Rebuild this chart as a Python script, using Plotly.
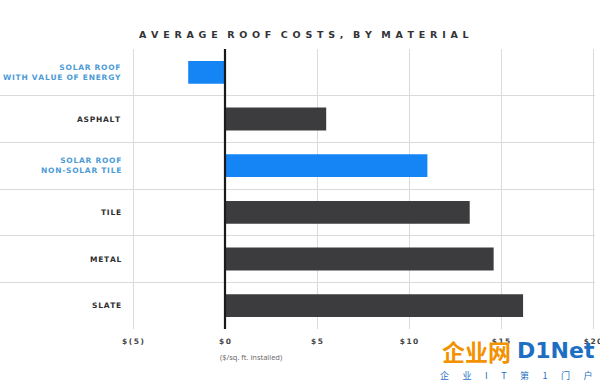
import plotly.graph_objects as go

categories = ["SOLAR ROOF<br>WITH VALUE OF ENERGY", "ASPHALT", "SOLAR ROOF<br>NON-SOLAR TILE",
              "TILE", "METAL", "SLATE"]
values = [-2.0, 5.5, 11.0, 13.3, 14.6, 16.2]
is_solar = [True, False, True, False, False, False]
tick_vals = [-5, 0, 5, 10, 15, 20]
tick_text = ["$(5)", "$0", "$5", "$10", "$15", "$20"]

BLUE = "#1584f5"
DARK = "#3c3c3e"
LABEL_BLUE = "#4c9bd6"
LABEL_DARK = "#2e2e30"

def spaced(s, sep="\u200a"):
    return "<br>".join(sep.join(list(line)) for line in s.split("<br>"))

PX_PER_UNIT = 18.4
PLOT_W = 595
xmin = -5 - 133 / PX_PER_UNIT
xmax = xmin + PLOT_W / PX_PER_UNIT
ypos = list(range(len(categories)))

fig = go.Figure()
fig.add_trace(go.Bar(
    x=values, y=ypos, orientation="h", width=0.49,
    marker=dict(color=[BLUE if s else DARK for s in is_solar], line=dict(width=0)),
    hoverinfo="skip",
))

# zero line
fig.add_shape(type="line", xref="x", yref="paper", x0=0, x1=0, y0=0, y1=1,
              line=dict(color="#1a1a1a", width=2.2), layer="above")

annotations = []
for i, (c, s) in enumerate(zip(categories, is_solar)):
    annotations.append(dict(
        x=123 / PLOT_W, xref="paper", y=i, yref="y", xanchor="right", yanchor="middle",
        text="<b>" + spaced(c) + "</b>", showarrow=False, align="right",
        font=dict(family="DejaVu Sans", size=7.5, color=LABEL_BLUE if s else LABEL_DARK)))

title_txt = "\u2002".join(list("AVERAGE ROOF COSTS, BY MATERIAL")).replace("\u2002 \u2002", "\u2002\u2002")
annotations.append(dict(
    x=0.5 * (132 + 475) / PLOT_W, xref="paper", y=1 + (49 - 35) / 280, yref="paper",
    xanchor="center", yanchor="middle", showarrow=False,
    text="<b>" + title_txt + "</b>",
    font=dict(family="DejaVu Sans", size=9.5, color="#333335")))

annotations.append(dict(
    x=-0.38, xref="x", y=-(357 - 329) / 280, yref="paper", xanchor="left", yanchor="middle",
    text="($/sq. ft. installed)", showarrow=False,
    font=dict(family="Open Sans", size=7.5, color="#666666")))

# watermark
annotations.append(dict(
    x=440 / PLOT_W, xref="paper", y=-(351 - 329) / 280, yref="paper", xanchor="left", yanchor="middle",
    text="<b>企业网</b>", showarrow=False,
    font=dict(family="Noto Sans CJK SC", size=23, color="#f39200")))
annotations.append(dict(
    x=515 / PLOT_W, xref="paper", y=-(350 - 329) / 280, yref="paper", xanchor="left", yanchor="middle",
    text="<b>D1Net</b>", showarrow=False,
    font=dict(family="DejaVu Sans", size=22, color="#1d6fc4")))
annotations.append(dict(
    x=438 / PLOT_W, xref="paper", y=-(375 - 329) / 280, yref="paper", xanchor="left", yanchor="middle",
    text="\u2003\u2002".join(["企", "业", "I", "T", "第", "1", "门", "户"]), showarrow=False,
    font=dict(family="Noto Sans CJK SC", size=9, color="#1d6fc4")))

fig.update_layout(
    width=600, height=384,
    margin=dict(l=0, r=600 - PLOT_W, t=49, b=55),
    paper_bgcolor="white", plot_bgcolor="white",
    showlegend=False,
    annotations=annotations,
    xaxis=dict(range=[xmin, xmax], tickvals=tick_vals,
               ticktext=["<b>" + spaced(t, "\u2009") + "</b>" for t in tick_text],
               showgrid=True, gridcolor="#dadada", gridwidth=1, zeroline=False,
               showline=False, ticks="", automargin=False, ticklabelstandoff=6,
               ticklabeloverflow="allow",
               tickfont=dict(family="DejaVu Sans", size=7.5, color="#444446")),
    yaxis=dict(range=[len(categories) - 0.5, -0.5], tickvals=[i - 0.5 for i in range(len(categories) + 1)],
               showticklabels=False, showgrid=True, gridcolor="#dadada", gridwidth=1,
               zeroline=False, showline=False, ticks="", automargin=False),
)

fig.write_html("out.html", config={"displayModeBar": False},
               post_script="document.body.style.margin='0';document.body.style.padding='0';")
